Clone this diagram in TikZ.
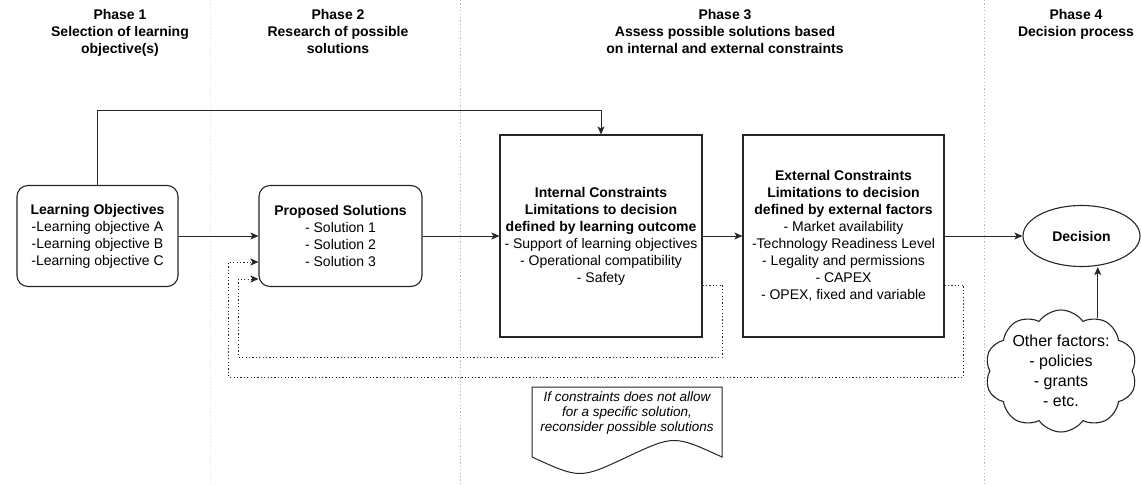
\documentclass[tikz,border=0pt]{standalone}
\usepackage{fontspec}
\setmainfont{Liberation Sans}
\usetikzlibrary{arrows.meta,positioning,shapes.geometric,shapes.symbols,calc}

\begin{document}
\begin{tikzpicture}[x=1pt,y=-1pt,
  font=\fontsize{14}{17}\selectfont,
  obj/.style={draw=black!85,line width=1.1pt,rounded corners=11pt,minimum width=161pt,
              minimum height=101pt,align=center,inner sep=0pt},
  cons/.style={draw=black!85,line width=1.1pt,minimum width=202pt,minimum height=202pt,
               align=center,inner sep=0pt},
  arr/.style={-{Stealth[length=8pt,width=7pt,inset=2pt]},line width=0.9pt,black!85},
  fb/.style={arr,dash pattern=on 1.2pt off 2.2pt},
  phase/.style={font=\fontsize{14}{17}\selectfont\bfseries,align=center,anchor=north,inner sep=0pt},
  sep/.style={gray!55,line width=0.8pt,dash pattern=on 1.2pt off 2.2pt}
]

\useasboundingbox (0,0) rectangle (1141,486);
\fill[white] (0,0) rectangle (1141,486);

% Phase separators
\draw[sep,gray!20] (210,0) -- (210,486);
\draw[sep] (460,0) -- (460,486);
\draw[sep] (984,0) -- (984,486);

% Phase headings
\node[phase] (ph1) at (120,9)  {Phase 1\\Selection of learning\\objective(s)};
\node[phase] (ph2) at (338,9)  {Phase 2\\Research of possible\\solutions};
\node[phase] (ph3) at (725,9)  {Phase 3\\Assess possible solutions based\\on internal and external constraints};
\node[phase] (ph4) at (1076,9) {Phase 4\\Decision process};

% Objectives and solutions
\node[obj] (lo) at (97.5,236) {\textbf{Learning Objectives}\\-Learning objective A\\-Learning objective B\\-Learning objective C};
\node[obj,minimum width=163pt] (ps) at (340.5,236) {\textbf{Proposed Solutions}\\- Solution 1\\- Solution 2\\- Solution 3};

% Constraint blocks
\node[cons] (intc) at (601,236) {\textbf{Internal Constraints}\\\textbf{Limitations to decision}\\\textbf{defined by learning outcome}\\- Support of learning objectives\\- Operational compatibility\\- Safety};
\node[cons,minimum width=201pt] (extc) at (843.5,236) {\textbf{External Constraints}\\\textbf{Limitations to decision}\\\textbf{defined by external factors}\\- Market availability\\-Technology Readiness Level\\- Legality and permissions\\- CAPEX\\- OPEX, fixed and variable};

% Decision
\node[ellipse,draw=black!85,line width=1.1pt,minimum width=117pt,minimum height=61pt,inner sep=0pt,
      font=\fontsize{14}{17}\selectfont\bfseries] (dec) at (1081.5,236) {Decision};
\node[cloud,draw=black!85,line width=1.1pt,cloud puffs=10,cloud puff arc=110,aspect=1.25,
      minimum width=152pt,minimum height=122pt,inner sep=-8pt,align=center,
      font=\fontsize{16}{20}\selectfont] (cld) at (1061,371) {Other factors:\\- policies\\- grants\\- etc.};

% Note
\node[font=\fontsize{13.5}{15}\selectfont\itshape,align=center,inner sep=0pt] (note) at (627,413)
  {If constraints does not allow\\for a specific solution,\\reconsider possible solutions};
\draw[black!85,line width=1pt] (532,387) -- (722,387) -- (722,457) .. controls (674,435) .. (627,457)
  .. controls (580,479) .. (532,457) -- cycle;

% Arrows
\draw[arr] (lo) -- (ps);
\draw[arr] (ps) -- (intc);
\draw[arr] (intc) -- (extc);
\draw[arr] (extc) -- (dec);
\draw[arr] (lo.north) -- ++(0,-74) -| (intc.north);
\draw[arr] (cld.55) -- (cld.55 |- dec.south);

% Feedback loops
\draw[fb] ([yshift=-49pt]intc.east) -- ++(20,0) -- ++(0,72) -- ++(-484,0) |- ([yshift=-43pt]ps.west);
\draw[fb] ([yshift=-49pt]extc.east) -- ++(19,0) -- ++(0,92) -- ++(-735,0) |- ([yshift=-26pt]ps.west);

\end{tikzpicture}
\end{document}
